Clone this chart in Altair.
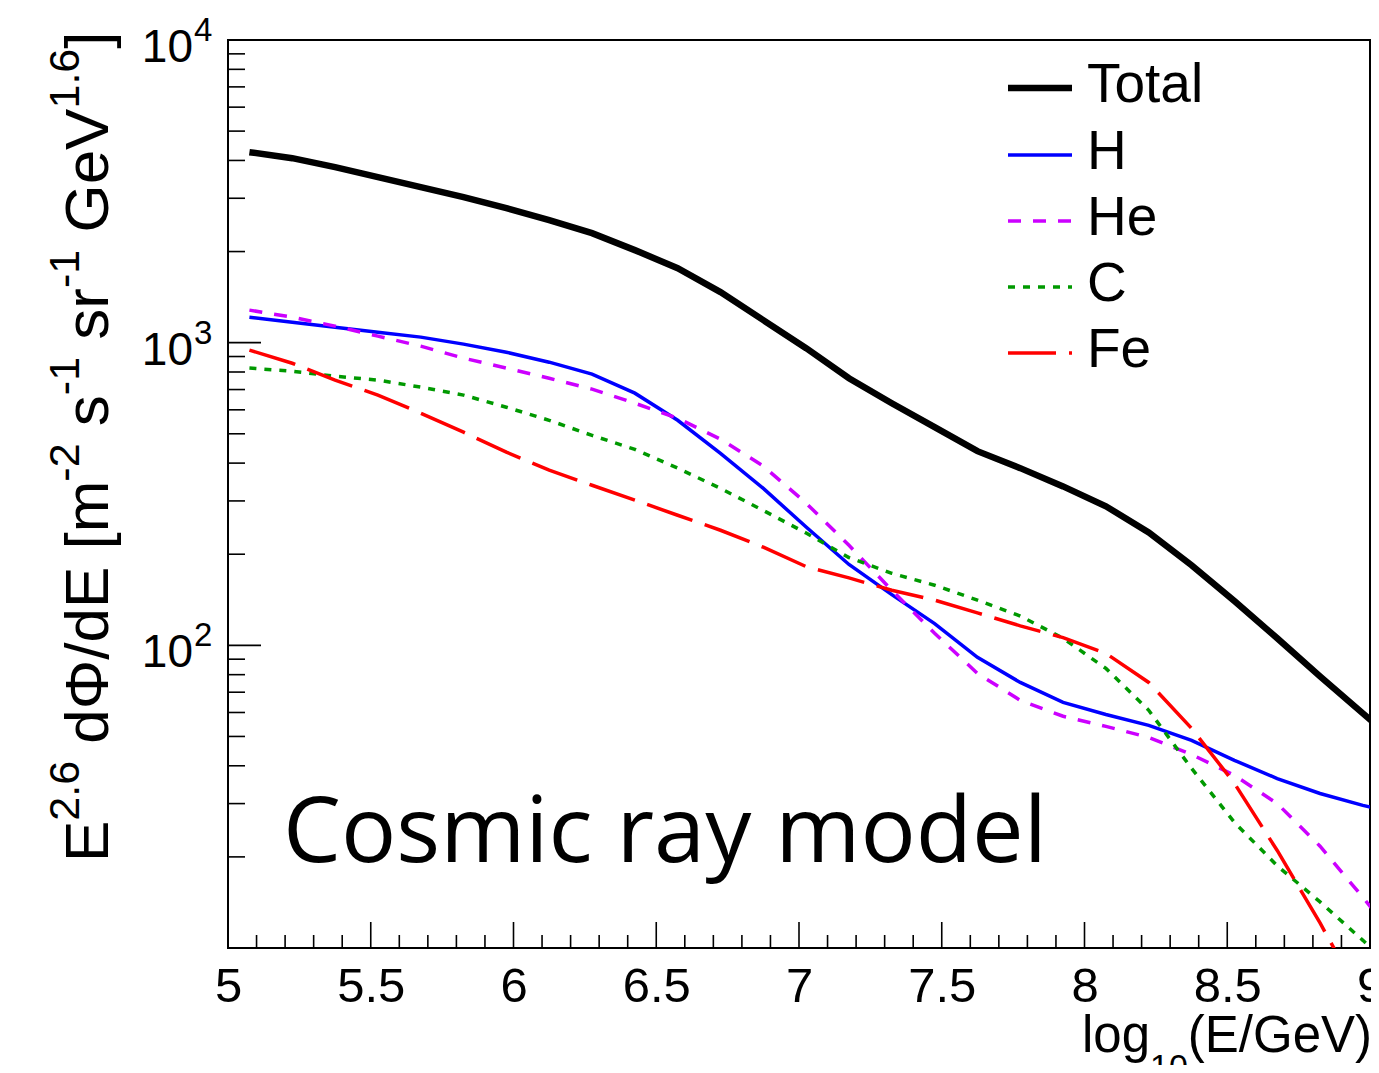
import altair as alt
import pandas as pd

# ---------------- data ----------------
LOG10_E = [5.075, 5.225, 5.375, 5.525, 5.675, 5.825, 5.975, 6.125, 6.275, 6.425,
           6.575, 6.725, 6.875, 7.025, 7.175, 7.325, 7.475, 7.625, 7.775, 7.925,
           8.075, 8.225, 8.375, 8.525, 8.675, 8.825, 8.975, 9.125]
TOTAL = [4260, 4070, 3800, 3525, 3266, 3027, 2783, 2541, 2301, 2022,
         1763, 1469, 1187, 959, 763, 631, 526, 438, 385, 335,
         288, 236, 184, 140, 105.5, 79, 59.6, 45]
H_FLUX = [1214, 1169, 1125, 1083, 1043, 989, 930, 862, 787, 681,
          554, 431, 330, 246, 185, 147, 118, 91.3, 75.4, 64.8,
          59.1, 54.4, 48.5, 41.7, 36.3, 32.4, 29.6, 27.4]
HE_FLUX = [1281, 1214, 1134, 1051, 974, 889, 824, 763, 702, 631,
           563, 480, 391, 295, 214, 152, 109.6, 80.8, 65.8, 58.3,
           54.0, 49.6, 43.6, 37.2, 30.0, 21.7, 14.7, 9.8]
C_FLUX = [824, 805, 775, 752, 713, 671, 612, 554, 494, 444,
          385, 330, 279, 235, 195, 173, 158, 141, 125, 105.5,
          83.9, 61.0, 39.2, 26.0, 18.7, 14.2, 10.6, 7.8]
FE_FLUX = [945, 855, 752, 671, 585, 506, 435, 379, 338, 302,
           269, 240, 211, 182, 167, 152, 141, 128, 116, 106,
           94.1, 75.4, 53.2, 35.0, 21.0, 12.1, 6.7, 3.65]

SERIES_NAMES = ["Total", "H", "He", "C", "Fe"]
SERIES_VALUES = [TOTAL, H_FLUX, HE_FLUX, C_FLUX, FE_FLUX]

X_LABELS = [5, 5.5, 6, 6.5, 7, 7.5, 8, 8.5, 9]
X_MINOR = [5.1, 5.2, 5.3, 5.4, 5.6, 5.7, 5.8, 5.9, 6.1, 6.2, 6.3, 6.4,
           6.6, 6.7, 6.8, 6.9, 7.1, 7.2, 7.3, 7.4, 7.6, 7.7, 7.8, 7.9,
           8.1, 8.2, 8.3, 8.4, 8.6, 8.7, 8.8, 8.9]
X_MAJOR = [5.5, 6, 6.5, 7, 7.5, 8, 8.5]
Y_MAJOR = [100, 1000]
Y_MINOR = [20, 30, 40, 50, 60, 70, 80, 90, 200, 300, 400, 500, 600, 700, 800, 900,
           2000, 3000, 4000, 5000, 6000, 7000, 8000, 9000]
Y_LABEL_VALUES = [100, 1000, 10000]
Y_LABEL_EXP = ["2", "3", "4"]

# ---------------- styling ----------------
PW, PH = 1142, 908
FONT = "Liberation Sans"
STYLES = {
    "Total": dict(color="#000000", width=6.5, dash=None),
    "H": dict(color="#0000ff", width=3.5, dash=None),
    "He": dict(color="#cc00ff", width=3.5, dash=[13, 12]),
    "C": dict(color="#009900", width=3.5, dash=[7, 8]),
    "Fe": dict(color="#ff0000", width=3.5, dash=[48, 13]),
}

x_scale = alt.Scale(domain=[5, 9], nice=False, zero=False)
y_scale = alt.Scale(type="log", domain=[10, 10000], nice=False)
x_axis = alt.Axis(values=X_LABELS, format="~g", title=None, tickSize=0, domain=False,
                  grid=False, labelFont=FONT, labelFontSize=49, labelPadding=14,
                  labelColor="black", labelFlush=False, labelOverlap=False)

layers = []

# data lines
for name, vals in zip(SERIES_NAMES, SERIES_VALUES):
    st = STYLES[name]
    df = pd.DataFrame({"logE": LOG10_E, "flux": vals})
    mk = dict(color=st["color"], strokeWidth=st["width"], clip=True)
    if st["dash"]:
        mk["strokeDash"] = st["dash"]
    layers.append(
        alt.Chart(df).mark_line(**mk).encode(
            x=alt.X("logE:Q", scale=x_scale, axis=x_axis),
            y=alt.Y("flux:Q", scale=y_scale, axis=None),
        )
    )

# inward ticks
def xticks(vals, length):
    return alt.Chart(pd.DataFrame({"v": vals})).mark_rule(color="black", strokeWidth=1.6).encode(
        x=alt.X("v:Q", scale=x_scale, axis=x_axis),
        y=alt.value(PH), y2=alt.value(PH - length))

def yticks(vals, length):
    return alt.Chart(pd.DataFrame({"v": vals})).mark_rule(color="black", strokeWidth=1.6).encode(
        y=alt.Y("v:Q", scale=y_scale, axis=None),
        x=alt.value(0), x2=alt.value(length))

layers += [xticks(X_MINOR, 13), xticks(X_MAJOR, 26), yticks(Y_MINOR, 17), yticks(Y_MAJOR, 33)]

# y tick labels 10^n
ylab = pd.DataFrame({"v": Y_LABEL_VALUES, "e": Y_LABEL_EXP})
layers.append(alt.Chart(ylab).mark_text(align="right", baseline="alphabetic", font=FONT,
                                        fontSize=46, dy=22, color="black").encode(
    y=alt.Y("v:Q", scale=y_scale, axis=None), x=alt.value(-35), text=alt.value("10")))
layers.append(alt.Chart(ylab).mark_text(align="left", baseline="alphabetic", font=FONT,
                                        fontSize=33, dy=1, color="black").encode(
    y=alt.Y("v:Q", scale=y_scale, axis=None), x=alt.value(-34), text="e:N"))

# text helpers (Helvetica/Arial advance widths, em units)
ADV = {' ': 0.278, 'E': 0.667, 'd': 0.556, 'Φ': 0.78, '/': 0.278, '[': 0.278, 'm': 0.833,
       's': 0.5, 'r': 0.333, 'G': 0.778, 'e': 0.556, 'V': 0.667, ']': 0.278, '-': 0.333,
       '1': 0.556, '2': 0.556, '.': 0.278, '6': 0.556, 'l': 0.222, 'o': 0.556, 'g': 0.556,
       '0': 0.556, '(': 0.333, ')': 0.333}

def tw(s, size):
    return sum(ADV[c] for c in s) * size

ONE = pd.DataFrame({"a": [0]})

def text_layer(t, px, py, size, angle=0, font=FONT, align="left"):
    mk = dict(align=align, baseline="alphabetic", font=font, fontSize=size, color="black")
    if angle:
        mk["angle"] = angle
    return alt.Chart(ONE).mark_text(**mk).encode(x=alt.value(px), y=alt.value(py), text=alt.value(t))

# y-axis title (rotated, with superscripts)
YT_PIECES = [("E", 0), ("2.6", 1), (" dΦ/dE [m", 0), ("-2", 1), (" s", 0), ("-1", 1),
             (" sr", 0), ("-1", 1), (" GeV", 0), ("1.6", 1), ("]", 0)]
BASE, SUP = 62, 43
pos = 822.0
for t, sup in YT_PIECES:
    size = SUP if sup else BASE
    lead = len(t) - len(t.lstrip(" "))
    pos -= lead * ADV[' '] * size
    s = t.lstrip(" ")
    layers.append(text_layer(s, -149 if sup else -120, pos, size, angle=270))
    pos -= tw(s, size)

# x-axis title log_10(E/GeV), right aligned to plot edge
XT_PIECES = [("log", 0), ("10", 1), ("(E/GeV)", 0)]
XB, XS = 51, 34
total_w = sum(tw(t, XS if s else XB) for t, s in XT_PIECES)
xpos = PW + 2 - total_w
for t, s in XT_PIECES:
    size = XS if s else XB
    layers.append(text_layer(t, xpos, 1038 if s else 1012, size))
    xpos += tw(t, size)

# annotation
layers.append(text_layer("Cosmic ray model", 55, 822, 92, font="Open Sans"))

# legend
LEG_ROWS = [48, 115, 181, 247, 313]
for name, ry in zip(SERIES_NAMES, LEG_ROWS):
    st = STYLES[name]
    mk = dict(color=st["color"], strokeWidth=st["width"])
    if st["dash"]:
        mk["strokeDash"] = st["dash"]
    layers.append(alt.Chart(ONE).mark_rule(**mk).encode(
        x=alt.value(780), x2=alt.value(844), y=alt.value(ry)))
    layers.append(text_layer(name, 859, ry + 14, 55))

chart = alt.layer(*layers).properties(
    width=PW, height=PH,
    autosize=alt.AutoSizeParams(type="none"),
    padding={"left": 220, "top": 32, "right": 1, "bottom": 117},
    background="white",
).configure_view(stroke="black", strokeWidth=2)

chart.save("out.html", embed_options={"renderer": "svg", "actions": False})
